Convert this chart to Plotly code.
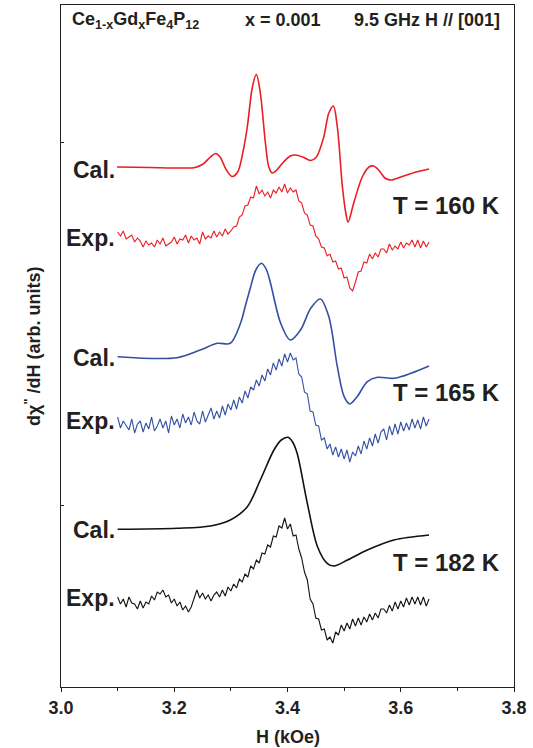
import plotly.graph_objects as go

# ---------------- data (field H in kOe, signal in arb. units incl. offsets) -------------
H_CAL_RED = [3.099, 3.158, 3.211, 3.237, 3.251, 3.264, 3.273, 3.281, 3.292, 3.302, 3.312, 3.322,
             3.329, 3.338, 3.345, 3.352, 3.361, 3.367, 3.373, 3.381, 3.393, 3.405, 3.414, 3.427,
             3.441, 3.451, 3.464, 3.473, 3.481, 3.488, 3.497, 3.503, 3.507, 3.517, 3.532, 3.544,
             3.552, 3.561, 3.572, 3.582, 3.600, 3.627, 3.650]
CAL_RED = [520, 519.5, 519, 519.5, 523, 530, 533.5, 530, 517, 510.5, 515, 537,
           560, 600, 612.5, 594, 544, 520, 514, 517, 525, 531, 532, 530,
           526.5, 530, 550, 574, 581, 560, 500, 474, 465, 484, 510, 520,
           521, 517, 509, 507, 510, 515, 518]

H_CAL_BLUE = [3.100, 3.205, 3.246, 3.276, 3.299, 3.317, 3.326, 3.335, 3.344, 3.354, 3.363, 3.370,
              3.388, 3.405, 3.423, 3.441, 3.458, 3.473, 3.488, 3.500, 3.510, 3.523, 3.541, 3.559,
              3.588, 3.618, 3.650]
CAL_BLUE = [330.3, 329.3, 337, 343.7, 343.7, 363.7, 382, 400.3, 417, 423.7, 417, 403.7,
            363.7, 347, 357, 378.7, 388, 370.3, 320.3, 290.3, 283, 290.3, 305.3, 309.7,
            308.7, 313.7, 321]

H_CAL_BLACK = [3.100, 3.205, 3.264, 3.299, 3.329, 3.352, 3.376, 3.389, 3.401, 3.409, 3.417, 3.435,
               3.453, 3.470, 3.482, 3.506, 3.541, 3.588, 3.650]
CAL_BLACK = [157.7, 158.7, 161, 167, 180.3, 207, 237, 247, 249.7, 245, 233.7, 183.7,
             140.3, 123.7, 121, 127, 137, 147, 152]

H_EXP = [3.100, 3.105, 3.110, 3.115, 3.120, 3.125, 3.130, 3.135, 3.140, 3.145,
         3.150, 3.155, 3.160, 3.165, 3.170, 3.175, 3.180, 3.185, 3.190, 3.195,
         3.200, 3.205, 3.210, 3.215, 3.220, 3.225, 3.230, 3.235, 3.240, 3.245,
         3.250, 3.255, 3.260, 3.265, 3.270, 3.275, 3.280, 3.285, 3.290, 3.295,
         3.300, 3.305, 3.310, 3.315, 3.320, 3.325, 3.330, 3.335, 3.340, 3.345,
         3.350, 3.355, 3.360, 3.365, 3.370, 3.375, 3.380, 3.385, 3.390, 3.395,
         3.400, 3.405, 3.410, 3.415, 3.420, 3.425, 3.430, 3.435, 3.440, 3.445,
         3.450, 3.455, 3.460, 3.465, 3.470, 3.475, 3.480, 3.485, 3.490, 3.495,
         3.500, 3.505, 3.510, 3.515, 3.520, 3.525, 3.530, 3.535, 3.540, 3.545,
         3.550, 3.555, 3.560, 3.565, 3.570, 3.575, 3.580, 3.585, 3.590, 3.595,
         3.600, 3.605, 3.610, 3.615, 3.620, 3.625, 3.630, 3.635, 3.640, 3.645,
         3.650]

EXP_RED = [455, 451, 456, 448, 450, 452, 445, 449, 446, 440,
           446, 442, 444, 440, 447, 443, 449, 441, 443, 445,
           450, 443, 448, 447, 452, 444, 451, 447, 449, 443,
           455, 448, 451, 449, 456, 450, 455, 451, 458, 453,
           456, 460, 461, 470, 472, 481, 482, 490, 489, 501,
           493, 497, 491, 495, 489, 497, 494, 500, 495, 503,
           494, 499, 495, 497, 486, 484, 474, 472, 462, 461,
           451, 448, 440, 439, 431, 433, 425, 426, 418, 419,
           409, 410, 399, 396, 405, 415, 416, 425, 424, 433,
           428, 434, 430, 438, 438, 434, 443, 437, 441, 438,
           445, 439, 444, 442, 447, 440, 447, 439, 446, 440,
           445]

EXP_BLUE = [270, 259, 266, 262, 257, 268, 254, 263, 266, 255,
            264, 258, 270, 256, 261, 268, 259, 266, 254, 271,
            262, 268, 259, 273, 264, 270, 262, 275, 266, 263,
            276, 265, 272, 279, 268, 276, 269, 281, 272, 283,
            277, 287, 278, 290, 284, 296, 289, 300, 297, 307,
            301, 312, 306, 318, 312, 324, 317, 328, 321, 333,
            325, 334, 327, 329, 313, 310, 295, 293, 276, 275,
            262, 261, 247, 249, 238, 243, 232, 240, 230, 238,
            228, 237, 225, 235, 231, 241, 233, 246, 238, 249,
            241, 253, 244, 255, 258, 247, 261, 252, 263, 253,
            265, 256, 264, 257, 268, 259, 267, 258, 270, 261,
            268]

EXP_BLACK = [90, 83, 88, 80, 90, 84, 83, 78, 86, 79,
             85, 83, 91, 87, 95, 93, 97, 90, 92, 84,
             88, 81, 85, 77, 81, 75, 80, 89, 97, 89,
             94, 88, 92, 86, 92, 95, 90, 97, 91, 100,
             96, 103, 99, 108, 105, 113, 110, 121, 118, 127,
             124, 134, 133, 142, 140, 151, 150, 161, 159, 169,
             158, 163, 151, 152, 138, 129, 115, 107, 88, 83,
             69, 68, 57, 58, 47, 50, 44, 55, 52, 62,
             56, 64, 58, 68, 61, 69, 62, 70, 65, 73,
             67, 74, 69, 78, 78, 74, 82, 76, 85, 78,
             86, 80, 89, 82, 90, 83, 90, 82, 90, 81,
             88]

X_TICKS = [3.0, 3.2, 3.4, 3.6, 3.8]
X_TICK_LABELS = ["3.0", "3.2", "3.4", "3.6", "3.8"]

# labels: (text, H, y)
ROW_LABELS = [("Cal.", 3.099, 517), ("Exp.", 3.099, 449),
              ("Cal.", 3.099, 329.5), ("Exp.", 3.099, 266),
              ("Cal.", 3.099, 157), ("Exp.", 3.099, 89)]
T_LABELS = [("T = 160 K", 3.779, 481.5), ("T = 165 K", 3.779, 295), ("T = 182 K", 3.779, 125)]

RED = "#ec1c24"
BLUE = "#3450a2"
BLACK = "#111111"
TXT = "#231f20"
FONT = "Liberation Sans"

fig = go.Figure()

def cal(x, y, c):
    fig.add_trace(go.Scatter(x=x, y=y, mode="lines", line=dict(color=c, width=1.6, shape="spline",
                                                               smoothing=0.9),
                             showlegend=False, hoverinfo="skip"))

def exp(x, y, c):
    fig.add_trace(go.Scatter(x=x, y=y, mode="lines", line=dict(color=c, width=1.1),
                             showlegend=False, hoverinfo="skip"))

cal(H_CAL_RED, CAL_RED, RED)
exp(H_EXP, EXP_RED, RED)
cal(H_CAL_BLUE, CAL_BLUE, BLUE)
exp(H_EXP, EXP_BLUE, BLUE)
cal(H_CAL_BLACK, CAL_BLACK, BLACK)
exp(H_EXP, EXP_BLACK, BLACK)

ann = []
for t, x, y in ROW_LABELS:
    ann.append(dict(text="<b>%s</b>" % t, x=x, y=y, xref="x", yref="y", xanchor="right",
                    yanchor="middle", showarrow=False, font=dict(size=23, color=TXT, family=FONT)))
for t, x, y in T_LABELS:
    ann.append(dict(text="<b>%s</b>" % t, x=x, y=y, xref="x", yref="y", xanchor="right",
                    yanchor="middle", showarrow=False, font=dict(size=24, color=TXT, family=FONT)))

ann.append(dict(text="<b>Ce<sub>1-x</sub>Gd<sub>x</sub>Fe<sub>4</sub>P<sub>12</sub></b>",
                x=3.016, y=667, xref="x", yref="y", xanchor="left", yanchor="middle",
                showarrow=False, font=dict(size=18, color=TXT, family=FONT)))
ann.append(dict(text="<b>x = 0.001</b>", x=3.322, y=667, xref="x", yref="y", xanchor="left",
                yanchor="middle", showarrow=False, font=dict(size=18, color=TXT, family=FONT)))
ann.append(dict(text="<b>9.5 GHz H // [001]</b>", x=3.779, y=667, xref="x", yref="y",
                xanchor="right", yanchor="middle", showarrow=False,
                font=dict(size=18, color=TXT, family=FONT)))
ann.append(dict(text="<b>H (kOe)</b>", x=0.5, y=-0.074, xref="paper", yref="paper",
                xanchor="center", yanchor="middle", showarrow=False,
                font=dict(size=18, color=TXT, family=FONT)))
ann.append(dict(text="<b>dχ<sup>\"</sup> /dH (arb. units)</b>", x=-0.062, y=0.5, xref="paper",
                yref="paper", xanchor="center", yanchor="middle", textangle=-90,
                showarrow=False, font=dict(size=18, color=TXT, family=FONT)))

fig.update_layout(
    width=533, height=748,
    margin=dict(l=61, r=19, t=5, b=61),
    paper_bgcolor="white", plot_bgcolor="white",
    annotations=ann,
    xaxis=dict(range=[3.0, 3.8], tickvals=X_TICKS, ticktext=["<b>%s</b>" % s for s in X_TICK_LABELS],
               ticks="outside", ticklen=4, tickwidth=1.2, tickcolor=TXT,
               minor=dict(dtick=0.1, ticks="outside", ticklen=3, tickcolor=TXT, tick0=3.0),
               showline=True, linecolor=TXT, linewidth=1.3, mirror=True,
               showgrid=False, zeroline=False,
               tickfont=dict(size=18, color=TXT, family=FONT)),
    yaxis=dict(range=[0, 682], tickvals=[182, 545], showticklabels=False,
               ticks="inside", ticklen=3, tickcolor=TXT,
               showline=True, linecolor=TXT, linewidth=1.3, mirror=True,
               showgrid=False, zeroline=False),
)

fig.write_html("out.html", config={"displayModeBar": False},
               post_script="document.body.style.margin='0';document.body.style.overflow='hidden';")
